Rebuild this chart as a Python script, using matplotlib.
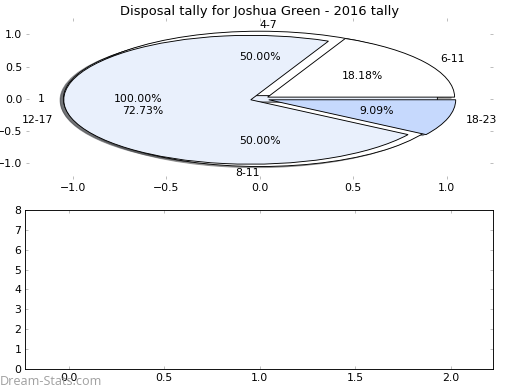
import matplotlib
matplotlib.use('Agg')
import matplotlib.pyplot as plt

# pie data - three tallies drawn on top of each other
single_labels = ['1']
single_values = [1]
pair_labels = ['4-7', '8-11']
pair_values = [1, 1]
age_labels = ['6-11', '12-17', '18-23']
age_values = [2, 8, 1]

title = 'Disposal tally for Joshua Green - 2016 tally'

plt.rcParams['font.size'] = 12
plt.rcParams['font.family'] = 'DejaVu Sans'

light_blue = '#e9f0fc'
mid_blue = '#c6d9fd'
tick_grey = '#b8b8b8'


def style_ticks(ax):
    ax.tick_params(which='both', direction='in', length=3.5, width=1,
                   color=tick_grey, pad=4, labelsize=12,
                   top=True, right=True)


fig = plt.figure(figsize=(8, 6), dpi=65)
fig.patch.set_facecolor('white')

ax1 = fig.add_axes([0.05, 0.54, 0.899, 0.413])
ax1.pie(single_values, labels=single_labels, explode=[0.05],
        autopct='%.2f%%', shadow=True, colors=[light_blue],
        wedgeprops={'edgecolor': 'black', 'linewidth': 1})
_, pair_texts, _ = ax1.pie(pair_values, labels=pair_labels, explode=[0.05, 0.05],
                           autopct='%.2f%%', shadow=True, colors=['white', 'white'],
                           wedgeprops={'edgecolor': 'black', 'linewidth': 1})
# labels sitting right on the vertical axis: first one to the right, second to the left
pair_texts[0].set_ha('left')
pair_texts[1].set_ha('right')
ax1.pie(age_values, labels=age_labels, explode=[0.05, 0.05, 0.05],
        autopct='%.2f%%', shadow=True, colors=['white', light_blue, mid_blue],
        wedgeprops={'edgecolor': 'black', 'linewidth': 1})
ax1.set_aspect('auto')
ax1.set_frame_on(False)
ax1.set_xlim(-1.25, 1.25)
ax1.set_ylim(-1.25, 1.25)
ax1.set_xticks([-1.0, -0.5, 0.0, 0.5, 1.0])
ax1.set_yticks([-1.0, -0.5, 0.0, 0.5, 1.0])
style_ticks(ax1)
ax1.set_title(title, fontsize=14.4, pad=4)

ax2 = fig.add_axes([0.048, 0.054, 0.901, 0.4075])
ax2.set_xlim(-0.23, 2.224)
ax2.set_ylim(0, 8)
ax2.set_xticks([0.0, 0.5, 1.0, 1.5, 2.0])
ax2.set_yticks(range(0, 9))
style_ticks(ax2)
for s in ax2.spines.values():
    s.set_linewidth(1)

fig.text(0.0, 0.004, 'Dream-Stats.com', fontsize=14, color='#a0a0a0',
         family=['Open Sans', 'DejaVu Sans'], ha='left', va='bottom')

fig.savefig('out.png', dpi=65, facecolor='white')
